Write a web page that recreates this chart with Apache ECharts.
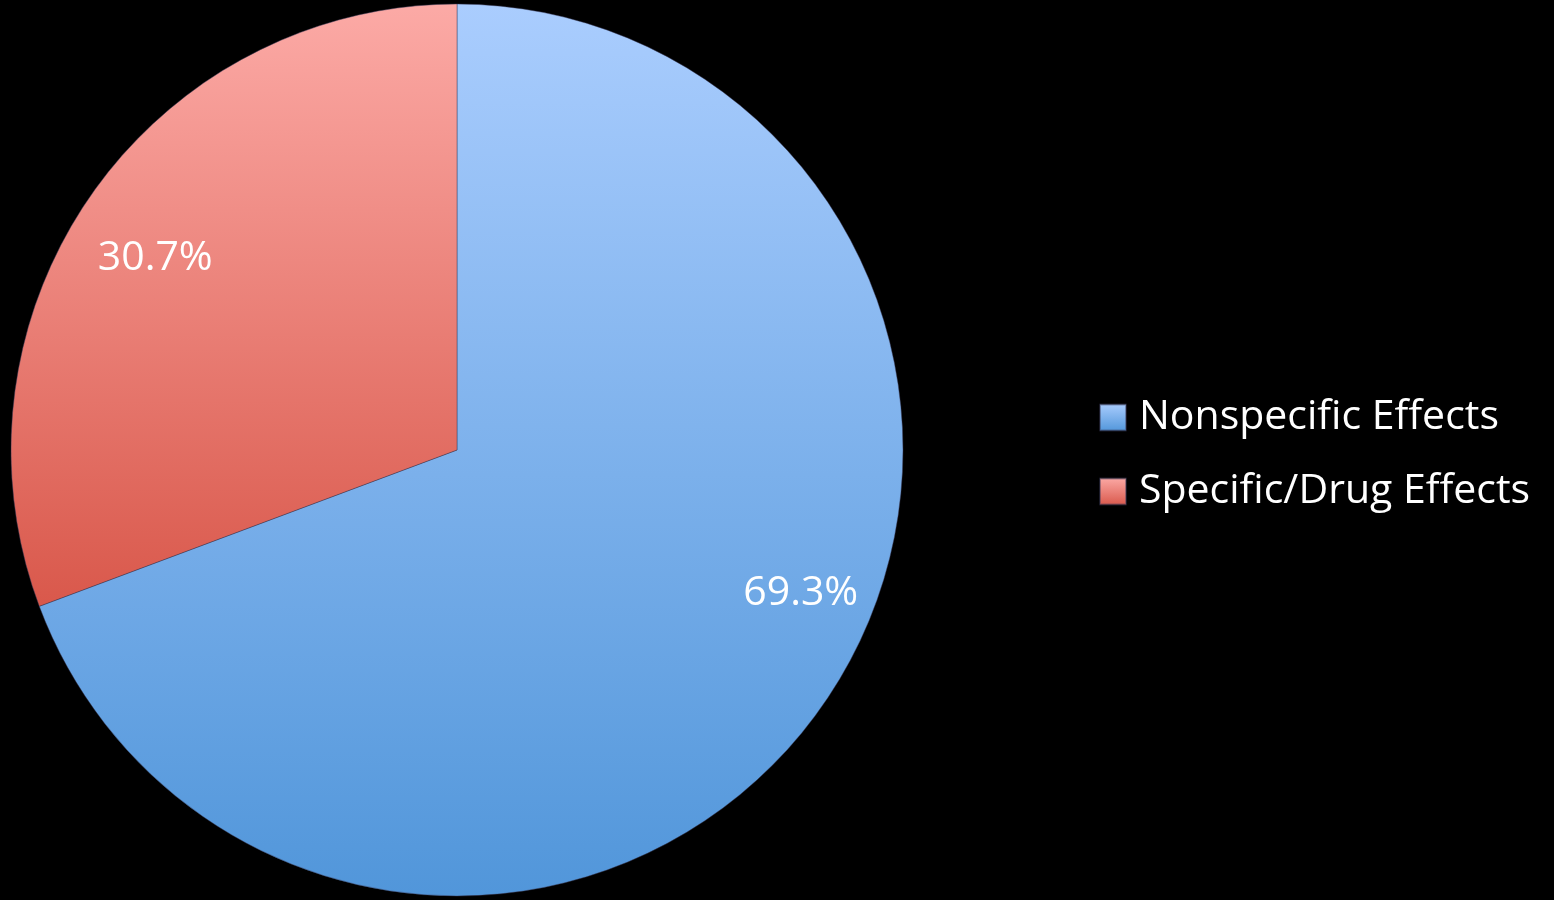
<!DOCTYPE html>
<html><head><meta charset="utf-8">
<script src="https://cdn.jsdelivr.net/npm/echarts@6/dist/echarts.min.js"></script>
<style>html,body{margin:0;padding:0;background:#000;}#c{width:1554px;height:900px;}</style>
</head><body><div id="c"></div>
<script>
const categories = ["Nonspecific Effects", "Specific/Drug Effects"];
const values = [69.3, 30.7];
const labelTexts = ["69.3%", "30.7%"];
const gradients = [["#aacdfe", "#5196da"], ["#fcaaa6", "#d9584b"]];
const labelOffsets = [[6, -91], [36, 43]];

const chart = echarts.init(document.getElementById('c'));
const font = '"Open Sans", sans-serif';
const data = categories.map((n, i) => ({
  name: n, value: values[i],
  itemStyle: { color: new echarts.graphic.LinearGradient(0, 0, 0, 1, [{offset: 0, color: gradients[i][0]}, {offset: 1, color: gradients[i][1]}]) },
}));
chart.setOption({
  backgroundColor: '#000',
  animation: false,
  legend: {
    orient: 'vertical', left: 1099, top: 385, padding: 0,
    itemWidth: 26, itemHeight: 26, itemGap: 9, icon: 'rect',
    textStyle: { color: '#fff', fontSize: 41, lineHeight: 42, fontFamily: font, padding: [23, 0, 0, 8] },
    data: categories
  },
  series: [{
    type: 'pie', center: [457, 450], radius: 446, startAngle: 90, clockwise: true,
    label: { show: false }, labelLine: { show: false },
    itemStyle: { borderColor: 'rgba(60,60,90,0.45)', borderWidth: 1 },
    data: data
  }, {
    type: 'pie', center: [457, 450], radius: [370, 446], startAngle: 90, clockwise: true, silent: true,
    itemStyle: { color: 'rgba(0,0,0,0)' },
    labelLine: { show: false },
    label: { show: true, position: 'inside', color: '#fff', fontSize: 41, fontFamily: font,
      formatter: p => labelTexts[p.dataIndex] },
    data: categories.map((n, i) => ({ name: n, value: values[i], label: { offset: labelOffsets[i] } }))
  }]
});
</script></body></html>
